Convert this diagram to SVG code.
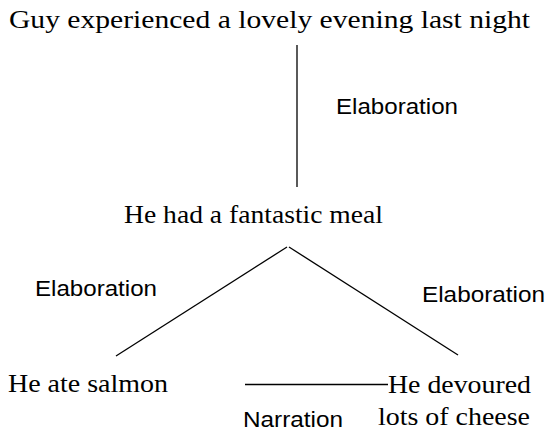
<svg xmlns="http://www.w3.org/2000/svg" width="546" height="435" viewBox="0 0 546 435">
<style>
.n{font-family:"Liberation Serif","DejaVu Serif",serif;font-size:25px;fill:#000}
.l{font-family:"Liberation Sans","DejaVu Sans",sans-serif;font-size:22px;fill:#000}
.c{stroke:#000;stroke-width:1.3;fill:none}
</style>
<rect width="546" height="435" fill="#fff"/>
<g id="connectors">
<line class="c" x1="297" y1="45" x2="297" y2="187" stroke-width="2"/>
<line class="c" x1="287" y1="247" x2="116" y2="356"/>
<line class="c" x1="289" y1="247" x2="458" y2="355"/>
<line class="c" x1="245" y1="384.5" x2="388" y2="384.5" stroke-width="3"/>
<text class="l" x="336" y="114" textLength="122" lengthAdjust="spacingAndGlyphs">Elaboration</text>
<text class="l" x="35" y="296" textLength="122" lengthAdjust="spacingAndGlyphs">Elaboration</text>
<text class="l" x="422" y="302" textLength="123" lengthAdjust="spacingAndGlyphs">Elaboration</text>
<text class="l" x="243" y="427" textLength="100" lengthAdjust="spacingAndGlyphs">Narration</text>
</g>
<g id="n1"><text class="n" x="9" y="28" textLength="521" lengthAdjust="spacingAndGlyphs">Guy experienced a lovely evening last night</text></g>
<g id="n2"><text class="n" x="124" y="223" textLength="259" lengthAdjust="spacingAndGlyphs">He had a fantastic meal</text></g>
<g id="n3"><text class="n" x="8" y="392" textLength="160" lengthAdjust="spacingAndGlyphs">He ate salmon</text></g>
<g id="n4"><text class="n" x="388" y="393" textLength="143" lengthAdjust="spacingAndGlyphs">He devoured</text><text class="n" x="378" y="425" textLength="152" lengthAdjust="spacingAndGlyphs">lots of cheese</text></g>
</svg>
